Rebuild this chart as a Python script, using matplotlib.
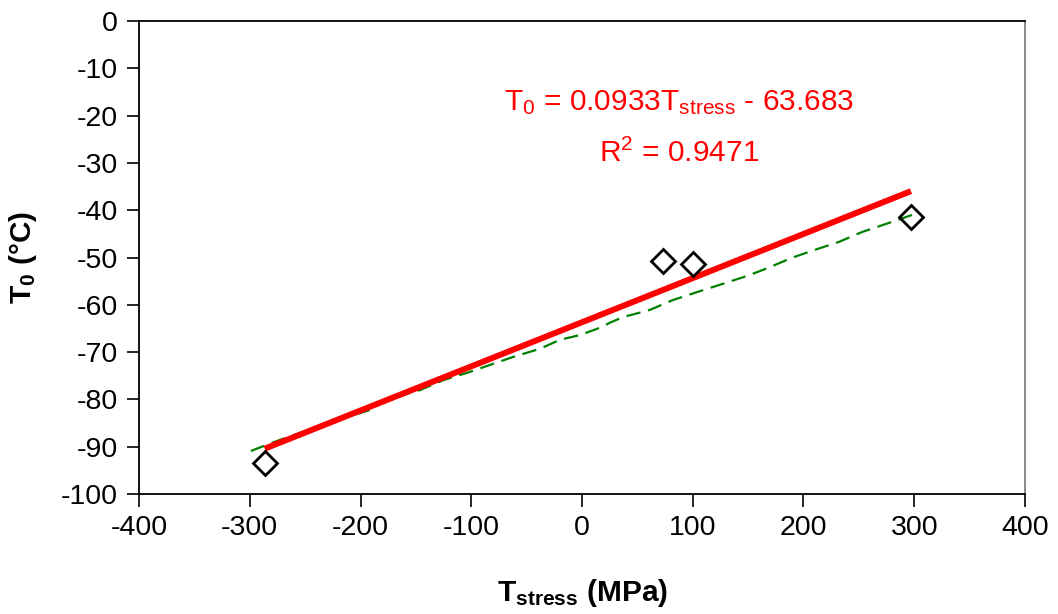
import numpy as np
import matplotlib.pyplot as plt

plt.rcParams['font.family'] = ['Liberation Sans', 'DejaVu Sans']
plt.rcParams['mathtext.fontset'] = 'custom'
plt.rcParams['mathtext.rm'] = 'Liberation Sans'
plt.rcParams['mathtext.it'] = 'Liberation Sans'
plt.rcParams['mathtext.bf'] = 'Liberation Sans:bold'
plt.rcParams['axes.unicode_minus'] = False

# measured points
t_stress = [-286.5, 73, 100, 297]
t0 = [-93.4, -50.7, -51.4, -41.4]

# fit reported on the chart
slope = 0.0933
intercept = -63.683
r2 = 0.9471

# green dashed curve
green_x = [-299, -278, -227, -191, -176, -146, -125, -104, -83, -62, -38,
           -20, -2, 18, 25, 37, 61, 82, 104, 124, 149, 168, 189, 210, 232,
           253, 277, 298]
green_y = [-90.9, -89.0, -84.8, -82.2, -80.1, -78.0, -75.9, -74.4, -72.7,
           -71.0, -69.3, -67.4, -66.4, -64.7, -63.8, -62.6, -61.1, -59.0,
           -57.3, -55.8, -53.9, -52.2, -50.1, -48.4, -46.7, -44.6, -42.7,
           -41.0]

fig = plt.figure(figsize=(10.58, 6.14), dpi=100)
ax = fig.add_axes([0.1314, 0.1954, 0.9688 - 0.1314, 0.9658 - 0.1954])

ax.plot(green_x, green_y, color='green', lw=1.6, ls=(0, (6.5, 3.5)), zorder=2)

fx = np.array([min(t_stress), max(t_stress)])
ax.plot(fx, slope * fx + intercept, color='red', lw=4.3, zorder=3,
        solid_capstyle='butt')

ax.plot(t_stress, t0, ls='none', marker='D', ms=12, mfc='none',
        mec='black', mew=2, zorder=4)

ax.text(88, -17.3, r'T$_0$ = 0.0933T$_{\rm stress}$ - 63.683', color='red',
        fontsize=21.5, ha='center', va='center')
ax.text(88, -27.9, r'R$^2$ = %.4f' % r2, color='red', fontsize=21.5,
        ha='center', va='center')

ax.set_xlim(-400, 400)
ax.set_ylim(-100, 0)
ax.set_xticks(np.arange(-400, 401, 100))
ax.set_yticks(np.arange(-100, 1, 10))
ax.tick_params(direction='out', length=9, width=1.2, labelsize=20.5, pad=6)

for s in ['left', 'bottom', 'top']:
    ax.spines[s].set_linewidth(1.3)
    ax.spines[s].set_color('black')
ax.spines['right'].set_color('gray')
ax.spines['right'].set_linewidth(1.3)

ax.set_xlabel(r'$\mathbf{T_{stress}}$ (MPa)', fontsize=21.5,
              fontweight='bold', labelpad=26)
ax.set_ylabel(r'$\mathbf{T_0}$ (°C)', fontsize=21.5, fontweight='bold',
              labelpad=16)

fig.savefig('out.png', dpi=100)
